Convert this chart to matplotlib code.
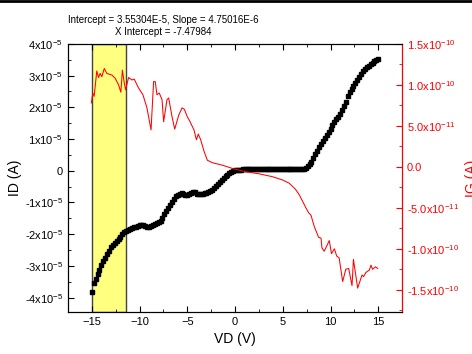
import numpy as np
import matplotlib
matplotlib.use("Agg")
import matplotlib.pyplot as plt
from matplotlib.ticker import MultipleLocator, FuncFormatter
from matplotlib.lines import Line2D

plt.rcParams['font.family'] = ['Liberation Sans', 'DejaVu Sans']
plt.rcParams['mathtext.fontset'] = 'custom'
plt.rcParams['mathtext.rm'] = 'Liberation Sans'

# drain sweep, 0.2 V step
vd = np.round(np.arange(-15, 15.01, 0.2), 2)
id_e5 = [
    -3.82, -3.55, -3.40, -3.25, -3.12,
    -2.98, -2.85, -2.74, -2.62, -2.52,
    -2.42, -2.33, -2.27, -2.20, -2.14,
    -2.08, -2.00, -1.94, -1.90, -1.86,
    -1.83, -1.80, -1.78, -1.76, -1.74,
    -1.72, -1.71, -1.72, -1.74, -1.76,
    -1.76, -1.73, -1.71, -1.69, -1.66,
    -1.63, -1.57, -1.48, -1.37, -1.27,
    -1.17, -1.07, -0.98, -0.89, -0.81,
    -0.76, -0.72, -0.70, -0.73, -0.77,
    -0.76, -0.72, -0.71, -0.68, -0.68,
    -0.72, -0.73, -0.72, -0.72, -0.70,
    -0.69, -0.67, -0.65, -0.60, -0.54,
    -0.48, -0.42, -0.36, -0.30, -0.24,
    -0.18, -0.13, -0.08, -0.04, -0.01,
    0.01, 0.02, 0.03, 0.03, 0.04,
    0.04, 0.04, 0.05, 0.04, 0.04,
    0.04, 0.04, 0.05, 0.05, 0.04,
    0.04, 0.04, 0.05, 0.04, 0.04,
    0.04, 0.05, 0.04, 0.04, 0.04,
    0.04, 0.04, 0.04, 0.05, 0.04,
    0.04, 0.04, 0.04, 0.05, 0.05,
    0.05, 0.07, 0.10, 0.15, 0.21,
    0.29, 0.40, 0.52, 0.63, 0.74,
    0.84, 0.94, 1.04, 1.13, 1.22,
    1.33, 1.45, 1.55, 1.62, 1.70,
    1.80, 1.92, 2.04, 2.18, 2.35,
    2.47, 2.58, 2.68, 2.78, 2.87,
    2.96, 3.05, 3.13, 3.20, 3.26,
    3.31, 3.36, 3.41, 3.45, 3.49,
    3.52,
]

# gate leakage
vg = [-15.05, -14.9, -14.76, -14.48, -14.3, -14.13, -13.95, -13.7, -13.43, -12.9,
      -12.55, -12.2, -11.96, -11.8, -11.6, -11.46, -11.15, -10.8, -10.56, -10.1,
      -9.65, -9.23, -8.8, -8.53, -8.36, -8.18, -7.94, -7.65, -7.48, -7.13,
      -6.95, -6.6, -6.32, -5.9, -5.55, -5.3, -5.0, -4.8, -4.3, -4.05,
      -3.85, -3.6, -3.25, -2.9, -2.37, -1.32, -0.28, 1.13, 2.5, 3.9,
      4.97, 5.67, 6.3, 6.72, 7.07, 7.42, 7.7, 7.95, 8.3, 8.75,
      9.0, 9.1, 9.34, 9.87, 10.1, 10.4, 10.65, 10.9, 11.27, 11.6,
      11.9, 12.25, 12.4, 12.84, 13.3, 13.46, 13.7, 14.06, 14.24, 14.4,
      14.7, 14.94]
ig_e10 = [0.78, 0.90, 0.86, 1.17, 1.09, 1.14, 1.10, 1.20, 1.14, 1.12,
          1.08, 1.00, 0.91, 1.18, 1.02, 0.94, 1.09, 1.06, 1.07, 0.96,
          0.88, 0.72, 0.45, 1.04, 1.04, 0.88, 0.90, 0.82, 0.55, 0.82,
          0.84, 0.61, 0.46, 0.63, 0.72, 0.70, 0.61, 0.57, 0.45, 0.33,
          0.40, 0.33, 0.19, 0.08, 0.05, 0.02, -0.02, -0.06, -0.085, -0.12,
          -0.16, -0.20, -0.27, -0.34, -0.42, -0.50, -0.56, -0.59, -0.73, -0.86,
          -0.87, -0.99, -1.03, -0.90, -1.06, -1.00, -1.09, -1.11, -1.40, -1.25,
          -1.24, -1.45, -1.13, -1.48, -1.32, -1.34, -1.29, -1.26, -1.20, -1.25,
          -1.22, -1.24]

fit_range = (-15, -11.4)


def sci_label(v, exp, fmt):
    m = v / 10 ** exp
    return fmt.format(m) + r"x10$^{\mathregular{%d}}$" % exp


def left_fmt(v, p):
    if abs(v) < 1e-12:
        return "0"
    return sci_label(v, -5, "{:g}")


def right_fmt(v, p):
    if abs(v) < 1e-20:
        return "0.0"
    exp = -11 if abs(v) < 0.9e-10 else -10
    return sci_label(v, exp, "{:.1f}")


fig = plt.figure(figsize=(4.72, 3.54), dpi=100)
ax = fig.add_axes([0.144, 0.119, 0.708, 0.757])
ax2 = ax.twinx()

ax.axvspan(*fit_range, facecolor='#ffff80', edgecolor='#444444', lw=1, zorder=0)
ax.plot(vd, np.array(id_e5) * 1e-5, 's', color='black', ms=3.2, zorder=3)
ax2.plot(vg, np.array(ig_e10) * 1e-10, '-', color='red', lw=0.75)

ax.set_xlim(-17.5, 17.5)
ax.set_ylim(-4.45e-5, 4e-5)
ax2.set_ylim(-1.77e-10, 1.5e-10)

ax.xaxis.set_major_locator(MultipleLocator(5))
ax.xaxis.set_minor_locator(MultipleLocator(2.5))
ax.yaxis.set_major_locator(MultipleLocator(1e-5))
ax.yaxis.set_minor_locator(MultipleLocator(0.5e-5))
ax2.yaxis.set_major_locator(MultipleLocator(0.5e-10))
ax2.yaxis.set_minor_locator(MultipleLocator(0.25e-10))
ax.yaxis.set_major_formatter(FuncFormatter(left_fmt))
ax2.yaxis.set_major_formatter(FuncFormatter(right_fmt))

ax.tick_params(which='both', direction='in', top=True, right=False, labelsize=8)
ax.tick_params(which='major', length=4)
ax.tick_params(which='minor', length=2)
ax2.tick_params(which='both', direction='in', colors='red', labelsize=8)
ax2.tick_params(which='major', length=4)
ax2.tick_params(which='minor', length=2)
ax2.spines['right'].set_color('red')

ax.set_xlabel("VD (V)", fontsize=10, labelpad=4)
ax.set_ylabel("ID (A)", fontsize=10, labelpad=2)
ax2.set_ylabel("IG (A)", fontsize=10, color='red', labelpad=4)

fig.text(0.346, 0.943, "Intercept = 3.55304E-5, Slope = 4.75016E-6",
         ha='center', va='center', fontsize=7)
fig.text(0.346, 0.909, "X Intercept = -7.47984", ha='center', va='center', fontsize=7)
fig.add_artist(Line2D([0, 1], [0.997, 0.997], color='black', lw=2))

fig.savefig("out.png", dpi=100)
